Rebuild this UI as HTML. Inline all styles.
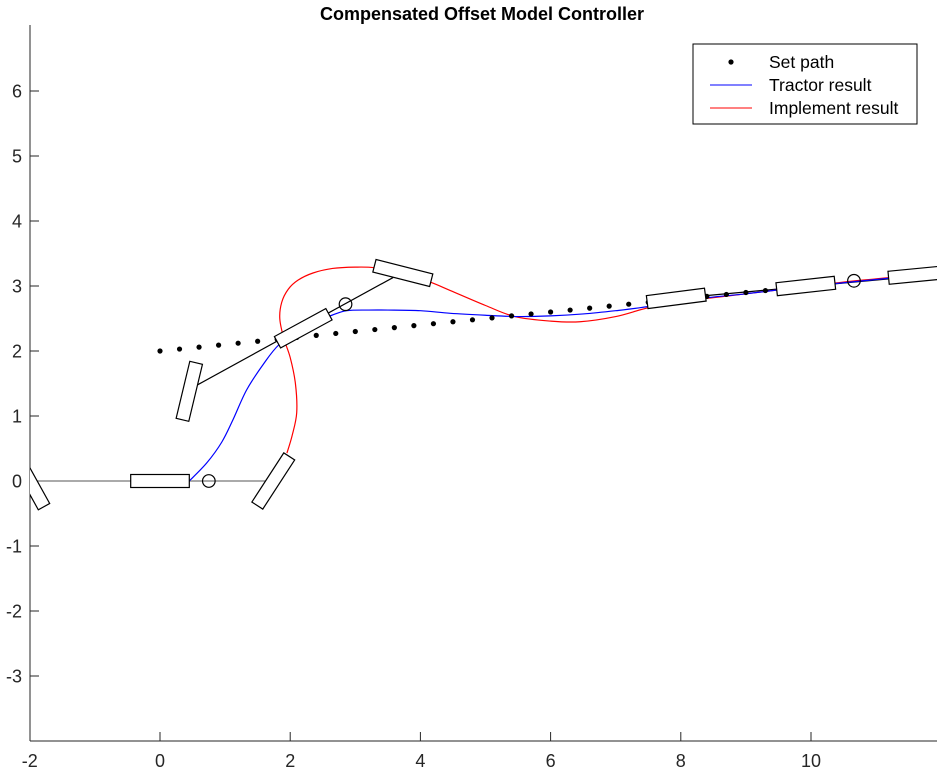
<!DOCTYPE html>
<html><head><meta charset="utf-8"><style>
html,body{margin:0;padding:0;background:#fff}
svg{display:block;font-family:"Liberation Sans",sans-serif}
</style></head><body>
<svg id="chart" width="937" height="772" viewBox="0 0 937 772" xmlns="http://www.w3.org/2000/svg">
<defs><clipPath id="pc"><rect x="30" y="25" width="910" height="716"/></clipPath></defs>
<text x="482" y="20" text-anchor="middle" font-size="18" font-weight="bold">Compensated Offset Model Controller</text>
<g id="axes"></g>
<g id="plot" clip-path="url(#pc)"></g>
<g>
<rect x="693" y="44" width="224" height="80" fill="#fff" stroke="#000" stroke-width="1"/>
<circle cx="731" cy="62" r="2.6" fill="#000"/>
<text x="769" y="68" font-size="17.5">Set path</text>
<line x1="710" y1="85" x2="752" y2="85" stroke="#0000ff"/>
<text x="769" y="91" font-size="17.5">Tractor result</text>
<line x1="710" y1="108" x2="752" y2="108" stroke="#ff0000"/>
<text x="769" y="114" font-size="17.5">Implement result</text>
</g>
</svg>
<script>
const xTicks=[-2,0,2,4,6,8,10];
const yTicks=[-3,-2,-1,0,1,2,3,4,5,6];
const pathX=[0,0.3,0.6,0.9,1.2,1.5,1.8,2.1,2.4,2.7,3.0,3.3,3.6,3.9,4.2,4.5,4.8,5.1,5.4,5.7,6.0,6.3,6.6,6.9,7.2,7.5,7.8,8.1,8.4,8.7,9.0,9.3];
const pathY=[2.0,2.03,2.06,2.09,2.12,2.15,2.18,2.21,2.24,2.27,2.3,2.33,2.36,2.39,2.42,2.45,2.48,2.51,2.54,2.57,2.6,2.63,2.66,2.69,2.72,2.75,2.78,2.81,2.84,2.87,2.9,2.93];
const tractorX=[0.45,0.72,0.95,1.12,1.33,1.59,1.83,2.2,2.64,2.87,3.2,3.5,4.0,4.46,5.0,5.5,6.0,6.5,7.0,7.4,8.0,8.5,9.0,9.5,10.0,10.5,11.0,11.5,12.0];
const tractorY=[0.0,0.28,0.6,0.94,1.4,1.8,2.1,2.38,2.55,2.62,2.63,2.63,2.62,2.58,2.55,2.53,2.54,2.57,2.62,2.67,2.77,2.83,2.88,2.94,3.0,3.05,3.1,3.15,3.2];
const implX=[1.95,2.03,2.1,2.08,2.0,1.9,1.84,1.87,1.97,2.12,2.35,2.65,3.0,3.3,3.73,4.15,4.46,5.0,5.45,6.0,6.45,7.0,7.48,8.0,8.5,9.0,9.5,10.0,10.5,11.0,11.5,12.0];
const implY=[0.43,0.7,1.05,1.5,1.9,2.2,2.5,2.75,2.95,3.09,3.2,3.27,3.29,3.28,3.2,3.06,2.93,2.7,2.53,2.46,2.45,2.53,2.66,2.76,2.82,2.88,2.94,3.0,3.06,3.11,3.16,3.21];
const NS='http://www.w3.org/2000/svg';
const sx=x=>160+65.1*x, sy=y=>481-65*y;
function mk(t,a,p){const e=document.createElementNS(NS,t);for(const k in a)e.setAttribute(k,a[k]);p.appendChild(e);return e;}
const axes=document.getElementById('axes'), plot=document.getElementById('plot');
let e=mk('line',{x1:30,y1:741,x2:940,y2:741,stroke:'#262626'},axes);


e=mk('line',{x1:30,y1:25,x2:30,y2:741,stroke:'#262626'},axes);


xTicks.forEach(v=>{const x=sx(v);
 if(v>-2){const t=mk('line',{x1:x,y1:741,x2:x,y2:732,stroke:'#262626'},axes);}
 const l=mk('text',{x:x,y:767,'text-anchor':'middle','font-size':'18',fill:'#262626'},axes);l.textContent=v;
 
 });
yTicks.forEach(v=>{const y=sy(v);
 const t=mk('line',{x1:30,y1:y,x2:39,y2:y,stroke:'#262626'},axes);
 
 
 const l=mk('text',{x:22,y:y+6.5,'text-anchor':'end','font-size':'18',fill:'#262626'},axes);l.textContent=v;
 
 });
function smooth(X,Y){const P=X.map((x,i)=>[sx(x),sy(Y[i])]);let d='M'+P[0][0]+','+P[0][1];
 for(let i=0;i<P.length-1;i++){const p0=P[Math.max(0,i-1)],p1=P[i],p2=P[i+1],p3=P[Math.min(P.length-1,i+2)];
  d+=` C${p1[0]+(p2[0]-p0[0])/6},${p1[1]+(p2[1]-p0[1])/6} ${p2[0]-(p3[0]-p1[0])/6},${p2[1]-(p3[1]-p1[1])/6} ${p2[0]},${p2[1]}`;}return d;}
function line(x1,y1,x2,y2,c,n){const l=mk('line',{x1:sx(x1),y1:sy(y1),x2:sx(x2),y2:sy(y2),stroke:c,'stroke-width':1.2},plot);
 
 }
line(-2,0,1.74,0,'#777','hitch-line-start');
line(0.56,1.47,3.58,3.13,'#000','hitch-line-mid');
line(7.93,2.81,11.64,3.15,'#000','hitch-line-end');
e=mk('path',{d:smooth(implX,implY),fill:'none',stroke:'#ff0000','stroke-width':1.2},plot);


e=mk('path',{d:smooth(tractorX,tractorY),fill:'none',stroke:'#0000ff','stroke-width':1.2},plot);


pathX.forEach((x,i)=>{const c=mk('circle',{cx:sx(x),cy:sy(pathY[i]),r:2.6,fill:'#000'},plot);
 
 });
function body(cx,cy,ang,n){const g=mk('rect',{x:-29.3,y:-6.5,width:58.6,height:13,fill:'#fff',stroke:'#000','stroke-width':1.2,
 transform:`translate(${sx(cx)},${sy(cy)}) rotate(${-ang})`},plot);
 
 }
body(-2,0,-61,'implement-body-start-left');
body(0,0,0,'tractor-body-start');
body(1.74,0,57,'implement-body-start');
body(0.45,1.38,76.5,'implement-body-mid-a');
body(2.2,2.35,28.6,'tractor-body-mid');
body(3.73,3.2,-14.3,'implement-body-mid-b');
body(7.93,2.81,7.3,'tractor-body-end-a');
body(9.92,3.0,6.3,'implement-body-end');
body(11.64,3.17,5.5,'tractor-body-end-b');
[[0.75,0],[2.85,2.72],[10.66,3.08]].forEach(p=>{const c=mk('circle',{cx:sx(p[0]),cy:sy(p[1]),r:6.3,fill:'none',stroke:'#000','stroke-width':1.2},plot);
 
 });
</script>
</body></html>
